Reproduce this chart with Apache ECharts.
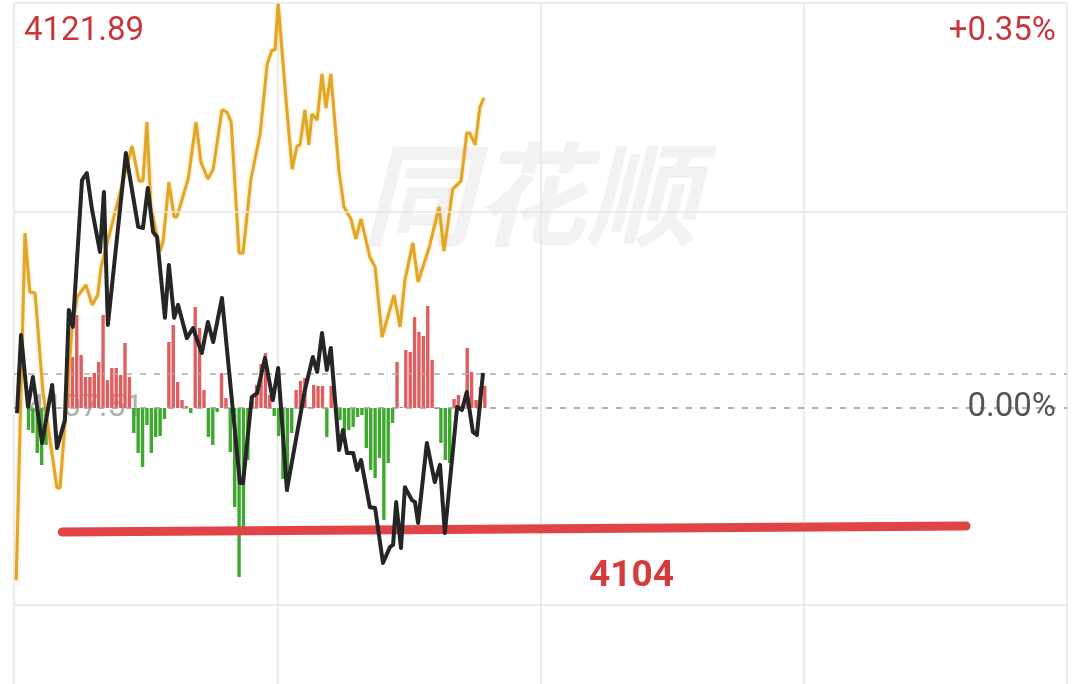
<!DOCTYPE html>
<html>
<head>
<meta charset="utf-8">
<title>分时图</title>
<script src="https://cdn.jsdelivr.net/npm/echarts@6/dist/echarts.min.js"></script>
<style>
  html, body { margin: 0; padding: 0; background: #fff; }
  #fenshi { width: 1080px; height: 684px; }
</style>
</head>
<body>
<div id="fenshi"></div>
<script>
// 昨收
const prevClose = 4107.51

// 指数分时 (黑线): 分钟 / 价格
const indexMinutes = [0.7,1.6,3.2,4.3,6.4,8.7,9.8,11.6,12.5,13.4,15.5,16.6,17.8,19.6,20.5,21.4,25.5,28.3,29.4,30.5,
  31.7,32.6,34.4,35.3,36.5,37.4,39.4,40.8,42.8,44.2,45.4,47.4,51.5,52.2,54.2,55.4,57.2,59.0,60.2,62.2,
  66.3,68.1,69.1,70.2,71.3,72.2,74.1,75.0,75.9,77.3,78.2,79.1,81.1,82.3,84.1,85.7,86.4,87.1,88.2,89.1,
  90.7,91.4,92.1,94.1,95.9,97.1,98.2,101.0,102.1,103.2,104.6,105.5,106.9]
const indexPrices = [4107.33,4110.10,4107.55,4108.61,4106.27,4108.33,4106.09,4107.08,4110.99,4110.39,
  4115.60,4115.85,4114.54,4113.05,4115.18,4110.46,4116.56,4113.94,4113.90,4115.32,
  4113.76,4113.58,4110.71,4112.59,4110.71,4111.17,4109.99,4110.35,4109.46,4110.56,
  4109.85,4111.42,4104.85,4104.85,4107.90,4108.04,4109.29,4107.79,4108.93,4104.60,
  4108.15,4109.32,4108.79,4110.17,4108.86,4109.64,4106.02,4106.73,4105.91,4105.91,
  4105.31,4105.66,4103.99,4103.96,4102.01,4102.58,4102.65,4104.17,4102.54,4104.70,
  4104.24,4104.17,4103.43,4106.27,4104.88,4105.49,4103.07,4107.55,4107.44,4108.08,
  4106.66,4106.55,4108.75]

// 领先指标 (黄线)
const leadMinutes = [0.5,2.5,3.6,4.8,6.6,9.8,10.5,13.2,14.4,16.4,17.8,19.1,19.8,26.9,28.5,29.4,30.3,31.2,33.3,34.0,
  35.3,36.5,37.1,39.7,41.5,42.6,44.2,45.4,47.4,48.5,49.5,51.3,52.2,54.0,56.1,57.7,58.8,59.5,60.2,62.0,
  63.4,64.5,65.2,66.3,67.2,67.9,69.1,70.2,71.1,72.2,74.1,75.2,76.8,77.9,79.1,81.1,82.3,83.9,86.6,88.0,
  89.1,90.9,92.1,94.6,96.9,98.0,100.0,101.9,103.2,103.9,105.1,106.2,107.1]
const leadPrices = [4101.40,4113.72,4111.63,4111.59,4108.08,4104.67,4104.67,4110.28,4111.45,4111.88,
  4111.17,4111.52,4112.48,4116.81,4115.57,4115.57,4117.66,4114.65,4113.08,4113.44,
  4115.53,4114.29,4114.29,4115.64,4117.66,4116.24,4115.64,4115.99,4118.09,4118.02,
  4117.66,4113.01,4113.01,4115.64,4117.24,4119.72,4120.22,4120.22,4121.89,4118.44,
  4115.99,4116.81,4116.85,4118.09,4116.85,4117.95,4117.73,4119.37,4118.16,4119.37,
  4115.89,4114.65,4114.22,4113.51,4114.22,4112.87,4112.52,4110.03,4111.52,4110.39,
  4112.05,4113.37,4111.98,4113.19,4114.65,4113.08,4115.28,4115.57,4117.27,4117.27,
  4116.85,4118.20,4118.52]

// 红绿柱, 每分钟一根
const strength = [0,0,0,-22,-25,-45,-57,-37,0,0,0,0,
  33,51,93,53,31,31,35,46,93,28,40,40,33,65,31,
  -25,-45,-59,-17,-45,-29,-28,-11,
  66,83,26,8,2,-5,101,80,18,
  -29,-37,-4,35,10,
  -44,-99,-169,-119,-52,
  10,23,44,55,13,
  -8,-28,-71,-84,-25,
  18,27,30,1,23,22,22,-29,22,
  -4,-12,-25,-22,-19,-9,-7,-40,-62,-70,-50,-112,-55,-15,
  46,1,58,56,91,76,72,102,48,
  -1,-35,-52,-55,
  9,13,2,60,36,8,21,22]

// 手画支撑线
const supportMinutes = [11, 217]
const supportPrices = [4103.11, 4103.32]
const supportLabel = '4104'

const topPrice = '4121.89'
const topPct = '+0.35%'
const zeroPct = '0.00%'
const maxPct = 0.35
const gridPcts = [0.35, 0.175, -0.175]

function pct (p) {
  return (p - prevClose) / prevClose * 100
}

var lastPrice = indexPrices[indexPrices.length - 1]

var chartDom = document.getElementById('fenshi')
var myChart = echarts.init(chartDom)

// 截图只露出上面 3/4 左右, 下沿停在 -0.2385%
var bottomPct = -maxPct * 276 / 405
var barMax = 405

var option = {
  backgroundColor: '#ffffff',
  animation: false,
  grid: {
    left: 14,
    right: 13,
    top: 3,
    bottom: 0
  },
  xAxis: {
    type: 'value',
    min: 0,
    max: 240,
    interval: 60,
    axisLine: { show: false },
    axisTick: { show: false },
    axisLabel: { show: false },
    splitLine: { show: true, lineStyle: { color: '#e6e6e6', width: 1.5 } }
  },
  yAxis: [
    {
      type: 'value',
      min: bottomPct,
      max: maxPct,
      axisLine: { show: false },
      axisTick: { show: false },
      axisLabel: { show: false },
      splitLine: { show: false }
    },
    {
      type: 'value',
      min: -barMax * 276 / 405,
      max: barMax,
      show: false,
      splitLine: { show: false }
    }
  ],
  graphic: [
    {
      type: 'text', left: 362, top: 138, z: 0,
      style: { text: '同花顺', font: 'italic bold 112px "Noto Sans CJK SC"', fill: '#f2f2f2' }
    },
    {
      type: 'text', left: 27, top: 392, z: 0,
      style: { text: prevClose.toFixed(2), font: '32px Roboto', fill: 'rgba(150,150,150,0.75)' }
    },
    {
      type: 'text', left: 24, top: 15, z: 100,
      style: { text: topPrice, font: '33px Roboto', fill: '#c8363c' }
    },
    {
      type: 'text', right: 24, top: 15, z: 100,
      style: { text: topPct, font: '33px Roboto', fill: '#c8363c' }
    },
    {
      type: 'text', right: 24, top: 391, z: 100,
      style: { text: zeroPct, font: '33px Roboto', fill: '#555555' }
    },
    {
      type: 'text', left: 589, top: 558, z: 100,
      style: { text: supportLabel, font: 'bold 37px Roboto', fill: '#d63a3a' }
    }
  ],
  series: [
    {
      name: '红绿柱',
      type: 'bar',
      yAxisIndex: 1,
      barWidth: 3.4,
      z: 1,
      data: strength.map((v, i) => ({
        value: [i + 0.3, v],
        itemStyle: { color: v >= 0 ? '#e05e60' : '#3fa82f' }
      }))
    },
    {
      name: '网格',
      type: 'line',
      data: [],
      markLine: {
        silent: true,
        symbol: 'none',
        label: { show: false },
        data: gridPcts.map(v => ({ yAxis: v, lineStyle: { color: '#e6e6e6', width: 1.5, type: 'solid' } }))
          .concat([
            { yAxis: 0, lineStyle: { color: '#9a9a9a', width: 1.5, type: [6, 8] } },
            { yAxis: pct(lastPrice), lineStyle: { color: '#b5aea2', width: 1.5, type: [6, 8] } }
          ])
      }
    },
    {
      name: '支撑线',
      type: 'line',
      z: 3,
      symbol: 'none',
      lineStyle: { color: '#e04446', width: 9, cap: 'round' },
      data: supportMinutes.map((m, i) => [m, pct(supportPrices[i])])
    },
    {
      name: '领先',
      type: 'line',
      z: 4,
      symbol: 'none',
      lineStyle: { color: '#e3a526', width: 3, shadowColor: 'rgba(240,190,70,0.6)', shadowBlur: 3 },
      data: leadMinutes.map((m, i) => [m, pct(leadPrices[i])])
    },
    {
      name: '指数',
      type: 'line',
      z: 5,
      symbol: 'none',
      lineStyle: { color: '#252525', width: 4, join: 'round' },
      data: indexMinutes.map((m, i) => [m, pct(indexPrices[i])])
    }
  ]
}

myChart.setOption(option)
</script>
</body>
</html>
